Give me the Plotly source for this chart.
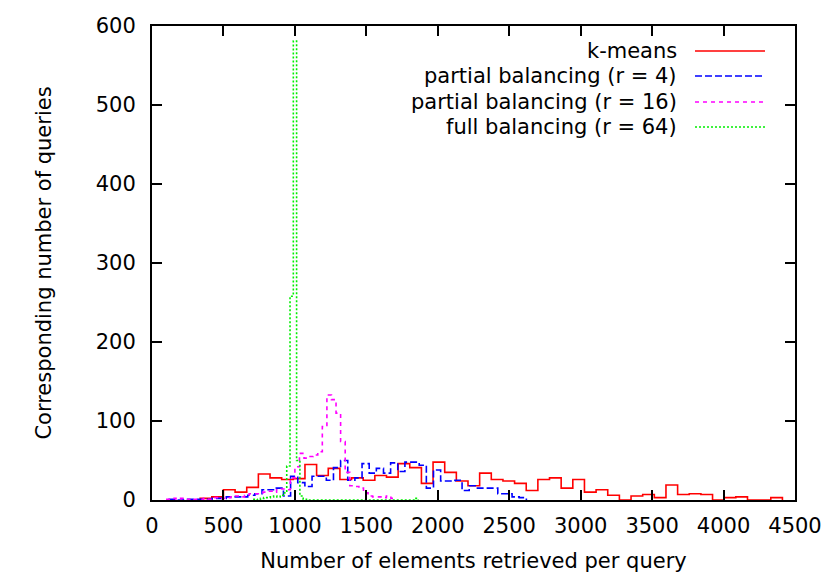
import plotly.graph_objects as go

# ---------------- data (histogram counts, 50 bins each) ----------------
series_names = ["k-means", "partial balancing (r = 4)",
                "partial balancing (r = 16)", "full balancing (r = 64)"]

kmeans_start, kmeans_width = 337.0, 81.5
kmeans_counts = [2, 4, 13, 10, 16, 33, 28, 26, 27, 45,
                 31, 40, 26, 28, 25, 31, 29, 46, 41, 21,
                 48, 35, 24, 18, 34, 26, 24, 21, 12, 26,
                 28, 15, 26, 10, 13, 6, 0, 5, 7, 3,
                 19, 7, 8, 7, 0, 3, 4, 0, 0, 3]

pb4_start, pb4_width = 120.0, 50.0
pb4_counts = [1, 0, 1, 1, 1, 1, 2, 2, 4, 4,
              4, 6, 8, 13, 13, 15, 5, 30, 22, 17,
              30, 30, 25, 41, 50, 25, 28, 46, 34, 40,
              34, 47, 36, 48, 48, 44, 15, 38, 24, 24,
              25, 12, 18, 15, 15, 15, 8, 8, 4, 3]

pb16_start, pb16_width = 104.0, 32.0
pb16_counts = [1, 2, 1, 2, 1, 0, 1, 1, 2, 1,
               3, 3, 2, 3, 4, 5, 4, 6, 8, 8,
               9, 10, 11, 10, 13, 14, 13, 28, 42, 59,
               53, 55, 57, 61, 93, 133, 127, 110, 74, 35,
               18, 17, 15, 9, 5, 4, 4, 3, 5, 2]

fb64_start, fb64_width = 713.0, 23.0
fb64_counts = [1, 0, 2, 3, 3, 4, 5, 4, 6, 9,
               43, 258, 581, 50, 5, 1, 0, 0, 0, 0,
               0, 0, 0, 0, 0, 0, 0, 0, 0, 0,
               0, 0, 0, 0, 0, 0, 0, 0, 0, 0,
               0, 0, 0, 0, 0, 0, 0, 0, 0, 2]

x_ticks = [0, 500, 1000, 1500, 2000, 2500, 3000, 3500, 4000, 4500]
y_ticks = [0, 100, 200, 300, 400, 500, 600]

x_title = "Number of elements retrieved per query"
y_title = "Corresponding number of queries"

# ---------------- styling ----------------
colors = ["#ff0000", "#0000ff", "#ff00ff", "#00ee00"]
dashes = ["solid", "7px,3px", "4px,4px", "2px,2px"]
FONT = "DejaVu Sans"
FS = 21

# page has an 8px body margin; figure sized so the plot area lands at
# x 152..795, y 26..500 in the 830x581 window
PAGE_OFF = 8
W, H = 830 - 2 * PAGE_OFF, 581 - 2 * PAGE_OFF
L = 152 - PAGE_OFF
T = 26 - PAGE_OFF
R = (PAGE_OFF + W) - 795
B = (PAGE_OFF + H) - 500


def step_xy(start, width, counts):
    n = len(counts)
    edges = [start + i * width for i in range(n + 1)]
    xs = [edges[0]] + edges[:n] + [edges[n]]
    ys = [0] + list(counts) + [0]
    return xs, ys


fig = go.Figure()
all_series = [(kmeans_start, kmeans_width, kmeans_counts),
              (pb4_start, pb4_width, pb4_counts),
              (pb16_start, pb16_width, pb16_counts),
              (fb64_start, fb64_width, fb64_counts)]

for (s, w, c), name, col, d in zip(all_series, series_names, colors, dashes):
    xs, ys = step_xy(s, w, c)
    fig.add_trace(go.Scatter(x=xs, y=ys, mode="lines", name=name,
                             line=dict(color=col, width=1.6, dash=d, shape="hv"),
                             showlegend=False))

# ---------------- legend (gnuplot style: text right, sample at right) ----------------
pw, ph = W - L - R, H - T - B
# page pixel positions
leg_text_right = 679
leg_line = (695, 765)
leg_rows = [51, 76, 102, 127]


def px2paper_x(px):
    return (px - PAGE_OFF - L) / pw


def px2paper_y(py):
    return (PAGE_OFF + H - B - py) / ph


for name, col, d, ry in zip(series_names, colors, dashes, leg_rows):
    fig.add_annotation(x=px2paper_x(leg_text_right), y=px2paper_y(ry),
                       xref="paper", yref="paper", text=name, showarrow=False,
                       xanchor="right", yanchor="middle",
                       font=dict(family=FONT, size=FS, color="black"))
    fig.add_shape(type="line", xref="paper", yref="paper",
                  x0=px2paper_x(leg_line[0]), x1=px2paper_x(leg_line[1]),
                  y0=px2paper_y(ry), y1=px2paper_y(ry),
                  line=dict(color=col, width=1.6, dash=d))

axis_common = dict(showline=True, linecolor="black", linewidth=2, mirror="ticks",
                   ticks="inside", ticklen=10, tickwidth=2, tickcolor="black",
                   showgrid=False, zeroline=False,
                   tickfont=dict(family=FONT, size=FS, color="black"))

fig.update_xaxes(range=[0, 4500], tickvals=x_ticks, ticktext=[str(v) for v in x_ticks],
                 title=dict(text=x_title, font=dict(family=FONT, size=FS, color="black"),
                            standoff=18),
                 ticklabelstandoff=6,
                 **axis_common)
fig.update_yaxes(range=[0, 600], tickvals=y_ticks, ticktext=[str(v) for v in y_ticks],
                 title=dict(text=y_title, font=dict(family=FONT, size=FS, color="black"),
                            standoff=38),
                 ticklabelstandoff=10,
                 **axis_common)

fig.update_layout(width=W, height=H, margin=dict(l=L, r=R, t=T, b=B, autoexpand=False),
                  plot_bgcolor="white", paper_bgcolor="white",
                  font=dict(family=FONT, size=FS, color="black"))

fig.write_html("out.html")
